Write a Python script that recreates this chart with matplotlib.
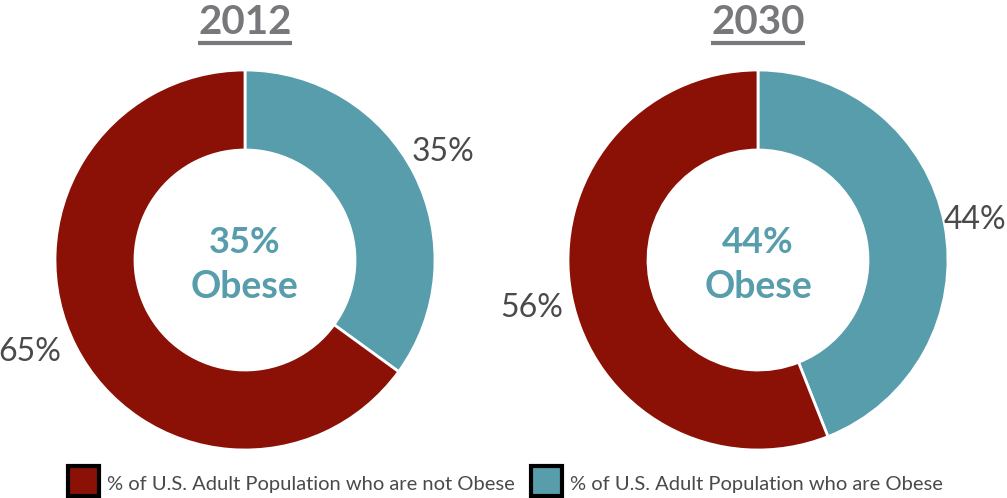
import matplotlib
matplotlib.use('Agg')
import matplotlib.pyplot as plt
from matplotlib.patches import Rectangle

# ----- data -----
years = ['2012', '2030']
obese = [35, 44]
not_obese = [65, 56]
legend_labels = ['% of U.S. Adult Population who are not Obese',
                 '% of U.S. Adult Population who are Obese']

RED = '#8B1005'
TEAL = '#579DAC'
GREY = '#77787B'
LABEL = '#4A4A4A'

plt.rcParams['font.family'] = ['Lato', 'DejaVu Sans']

fig = plt.figure(figsize=(10.07, 4.98), dpi=100)
ax = fig.add_axes([0, 0, 1, 1])

H = 498
centres = [(245, H - 260), (758, H - 260)]
R = 190
ring = 80
# outside label positions (pixels from top-left)
out_pos = [[(443, 152), (30, 352)], [(975, 220), (532, 308)]]

for i, yr in enumerate(years):
    cx, cy = centres[i]
    ax.pie([obese[i], not_obese[i]], colors=[TEAL, RED], center=(cx, cy), radius=R,
           startangle=90, counterclock=False,
           wedgeprops=dict(width=ring, edgecolor='white', linewidth=2))
    # title
    ax.text(cx, H - 22, yr, ha='center', va='center', fontsize=29, fontweight='bold', color=GREY)
    ax.plot([cx - 47, cx + 47], [H - 43, H - 43], color=GREY, lw=3, solid_capstyle='butt')
    # centre text
    ax.text(cx, H - 242, '{}%'.format(obese[i]), ha='center', va='center', fontsize=26,
            fontweight='bold', color=TEAL)
    ax.text(cx, H - 287, 'Obese', ha='center', va='center', fontsize=27,
            fontweight='bold', color=TEAL)
    # outside labels
    (tx, ty), (rx, ry) = out_pos[i]
    ax.text(tx, H - ty, '{}%'.format(obese[i]), ha='center', va='center', fontsize=23,
            color=LABEL)
    ax.text(rx, H - ry, '{}%'.format(not_obese[i]), ha='center', va='center', fontsize=23,
            color=LABEL)

# legend
for x0, col, lab in [(68, RED, legend_labels[0]), (531, TEAL, legend_labels[1])]:
    ax.add_patch(Rectangle((x0, H - 496), 31, 30, facecolor=col, edgecolor='black', lw=3))
    ax.text(x0 + 39, H - 484, lab, ha='left', va='center', fontsize=14.5, color=LABEL)

ax.set_xlim(0, 1007)
ax.set_ylim(0, H)
ax.set_aspect('auto')
ax.axis('off')

fig.savefig('out.png', dpi=100)
